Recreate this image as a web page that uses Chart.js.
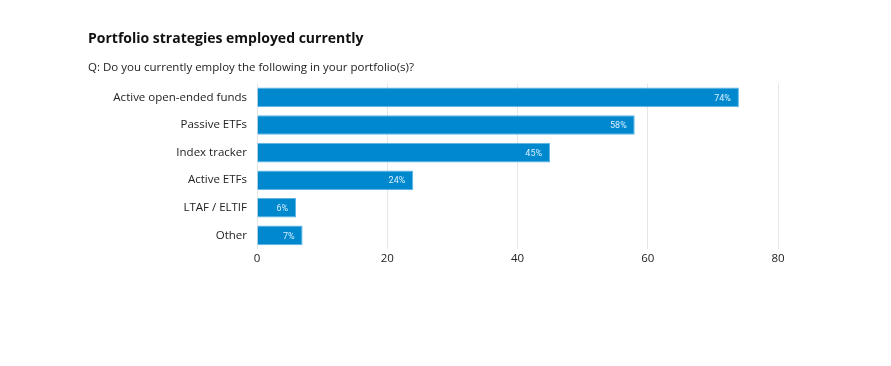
<!DOCTYPE html>
<html>
<head>
<meta charset="utf-8">
<script src="https://cdn.jsdelivr.net/npm/chart.js@4/dist/chart.umd.min.js"></script>
<style>
  html, body { margin: 0; padding: 0; background: #fff; }
  #wrap { width: 891px; height: 366px; }
</style>
</head>
<body>
<div id="wrap"><canvas id="c" width="891" height="366"></canvas></div>
<script>
const categories = ["Active open-ended funds", "Passive ETFs", "Index tracker", "Active ETFs", "LTAF / ELTIF", "Other"];
const values = [74, 58, 45, 24, 6, 7];
const xTicks = [0, 20, 40, 60, 80];
const titleText = "Portfolio strategies employed currently";
const subtitleText = "Q: Do you currently employ the following in your portfolio(s)?";

const FONT = "'Open Sans', sans-serif";

const labelPlugin = {
  id: 'barLabels',
  afterDatasetsDraw(chart) {
    const ctx = chart.ctx;
    const meta = chart.getDatasetMeta(0);
    ctx.save();
    ctx.font = "9px Roboto, sans-serif";
    ctx.fillStyle = "#d8efff";
    ctx.textAlign = "right";
    ctx.textBaseline = "middle";
    meta.data.forEach((bar, i) => {
      ctx.fillText(values[i] + "%", bar.x - 8, bar.y + 1);
    });
    ctx.restore();
  }
};

new Chart(document.getElementById('c'), {
  type: 'bar',
  data: {
    labels: categories,
    datasets: [{
      data: values,
      backgroundColor: '#0088cf',
      borderColor: '#5bb6e6',
      borderWidth: 1,
      categoryPercentage: 1.0,
      barPercentage: 0.71
    }]
  },
  options: {
    indexAxis: 'y',
    responsive: false,
    animation: false,
    devicePixelRatio: 1,
    layout: { padding: { left: 88, right: 113, top: 0, bottom: 97 } },
    plugins: {
      legend: { display: false },
      tooltip: { enabled: false },
      title: {
        display: true,
        text: titleText,
        align: 'start',
        color: '#111',
        font: { family: FONT, size: 14, weight: 'bold' },
        padding: { top: 31, bottom: 13 }
      },
      subtitle: {
        display: true,
        text: subtitleText,
        align: 'start',
        color: '#222',
        font: { family: FONT, size: 11.5 },
        padding: { top: 0, bottom: 9 }
      }
    },
    scales: {
      x: {
        min: 0,
        max: 80,
        afterBuildTicks(scale) { scale.ticks = xTicks.map(v => ({ value: v })); },
        ticks: { color: '#222', font: { family: FONT, size: 11.5 }, padding: 3 },
        grid: { color: '#e6e6e6', drawTicks: false, lineWidth: 1 },
        border: { display: false }
      },
      y: {
        afterFit(scale) { scale.width = 169; },
        ticks: { color: '#222', font: { family: FONT, size: 11.5 }, padding: 10 },
        grid: { display: false, drawTicks: false },
        border: { display: false }
      }
    }
  },
  plugins: [labelPlugin]
});
</script>
</body>
</html>
